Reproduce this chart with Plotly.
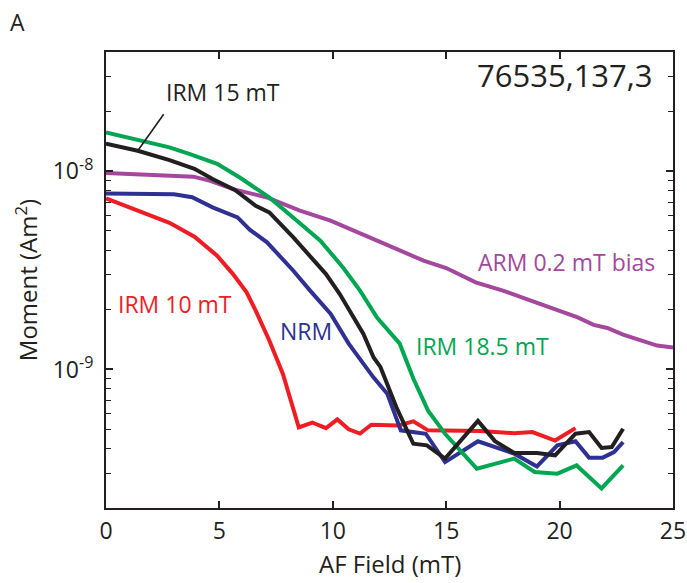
"""AF demagnetisation of sample 76535,137,3: NRM, ARM and IRMs."""

import numpy as np
import plotly.graph_objects as go

# AF field steps (mT) and moments (Am^2)
arm_field = [0.0, 3.85, 4.6, 5.6, 7.1, 8.55, 9.9, 11.5, 12.8, 14.0, 15.0,
             16.3, 17.5, 18.7, 19.9, 20.8, 21.5, 22.1, 22.8, 23.5, 24.3, 25.0]
arm_moment = [9.8e-9, 9.4e-9, 8.95e-9, 8.13e-9, 7.38e-9, 6.33e-9, 5.64e-9,
              4.73e-9, 4.06e-9, 3.54e-9, 3.25e-9, 2.75e-9, 2.5e-9, 2.23e-9,
              1.98e-9, 1.83e-9, 1.68e-9, 1.62e-9, 1.5e-9, 1.41e-9, 1.32e-9,
              1.29e-9]

irm10_field = [0.0, 2.8, 3.9, 4.9, 5.6, 6.2, 6.6, 7.2, 7.8, 8.5, 9.1, 9.7,
               10.2, 10.7, 11.2, 11.7, 12.9, 13.55, 14.2, 16.5, 18.0, 18.8,
               19.8, 20.7]
irm10_moment = [7.3e-9, 5.5e-9, 4.68e-9, 3.75e-9, 3.03e-9, 2.45e-9, 1.98e-9,
                1.4e-9, 9.5e-10, 5.1e-10, 5.4e-10, 5.06e-10, 5.6e-10, 4.99e-10,
                4.75e-10, 5.26e-10, 5.22e-10, 5.47e-10, 4.93e-10, 4.89e-10,
                4.77e-10, 4.83e-10, 4.38e-10, 5.06e-10]

nrm_field = [0.0, 3.0, 3.8, 4.7, 5.8, 6.35, 7.1, 8.25, 9.0, 9.9, 10.7, 11.8,
             12.4, 13.0, 14.1, 14.95, 16.4, 18.0, 19.0, 19.9, 20.7, 21.3,
             21.9, 22.4, 22.8]
nrm_moment = [7.73e-9, 7.65e-9, 7.4e-9, 6.58e-9, 5.85e-9, 5.06e-9, 4.38e-9,
              3.16e-9, 2.5e-9, 1.91e-9, 1.35e-9, 9.1e-10, 7.55e-10, 4.93e-10,
              4.74e-10, 3.41e-10, 4.34e-10, 3.76e-10, 3.24e-10, 4.14e-10,
              4.34e-10, 3.59e-10, 3.59e-10, 3.83e-10, 4.3e-10]

irm185_field = [0.0, 2.8, 3.7, 4.9, 5.9, 7.2, 8.25, 9.45, 10.45, 11.2, 11.95,
                12.95, 13.55, 14.2, 14.95, 16.35, 18.0, 18.9, 19.9, 20.75,
                21.85, 22.8]
irm185_moment = [1.57e-8, 1.32e-8, 1.22e-8, 1.09e-8, 9.3e-9, 7.38e-9, 5.85e-9,
                 4.47e-9, 3.27e-9, 2.5e-9, 1.83e-9, 1.35e-9, 9.0e-10, 6.2e-10,
                 4.74e-10, 3.16e-10, 3.55e-10, 3.04e-10, 2.98e-10, 3.28e-10,
                 2.51e-10, 3.28e-10]

irm15_field = [0.0, 1.4, 2.8, 3.9, 4.7, 5.7, 6.6, 7.2, 8.25, 9.7, 10.3, 11.35,
               11.8, 12.1, 12.8, 13.55, 14.15, 14.95, 16.4, 17.15, 18.0, 19.0,
               19.8, 20.7, 21.3, 21.85, 22.3, 22.8]
irm15_moment = [1.38e-8, 1.27e-8, 1.14e-8, 1.03e-8, 9.15e-9, 8.04e-9, 6.7e-9,
                6.2e-9, 4.65e-9, 3.03e-9, 2.41e-9, 1.51e-9, 1.15e-9, 1.03e-9,
                6.46e-10, 4.22e-10, 4.14e-10, 3.55e-10, 5.5e-10, 4.35e-10,
                3.79e-10, 3.79e-10, 3.69e-10, 4.74e-10, 4.83e-10, 4.02e-10,
                4.06e-10, 5.02e-10]

x_ticks = [0, 5, 10, 15, 20, 25]
y_ticks = [1e-9, 1e-8]
y_ticktext = ["10<sup>-9</sup>", "10<sup>-8</sup>"]
y_minor = [m * 10.0**e for e in (-10, -9, -8) for m in range(2, 10)
           if 2e-10 <= m * 10.0**e <= 4e-8]

INK = "#231F20"
FONT = "Open Sans"

series = [
    (arm_field, arm_moment, "#A3489D", "ARM 0.2 mT bias"),
    (irm10_field, irm10_moment, "#EE1D24", "IRM 10 mT"),
    (nrm_field, nrm_moment, "#2E3192", "NRM"),
    (irm185_field, irm185_moment, "#00A651", "IRM 18.5 mT"),
    (irm15_field, irm15_moment, INK, "IRM 15 mT"),
]

fig = go.Figure()
for field, moment, colour, name in series:
    fig.add_trace(go.Scatter(x=field, y=moment, mode="lines", name=name,
                             line=dict(color=colour, width=4)))

# curve labels (annotation coords on a log axis are log10 values)
labels = [
    ("IRM 15 mT", 2.55, 2.5e-8, INK),
    ("IRM 10 mT", 0.45, 2.15e-9, "#EE1D24"),
    ("NRM", 7.6, 1.57e-9, "#2E3192"),
    ("IRM 18.5 mT", 13.6, 1.31e-9, "#00A651"),
    ("ARM 0.2 mT bias", 16.3, 3.5e-9, "#A3489D"),
]
for text, x, y, colour in labels:
    fig.add_annotation(x=x, y=np.log10(y), text=text, showarrow=False,
                       xanchor="left", yanchor="middle",
                       font=dict(size=23, color=colour, family=FONT))

# leader line from the IRM 15 mT label to its curve
fig.add_annotation(x=1.4, y=np.log10(1.27e-8), ax=27, ay=-38, text="",
                   showarrow=True, arrowhead=0, arrowwidth=1.6, arrowcolor=INK)

fig.add_annotation(x=24.2, y=np.log10(3.05e-8), text="76535,137,3",
                   showarrow=False, xanchor="right", yanchor="middle",
                   font=dict(size=31, color=INK, family=FONT))
fig.add_annotation(x=-0.173, y=1.066, xref="paper", yref="paper", text="A",
                   showarrow=False, xanchor="left", yanchor="middle",
                   font=dict(size=23, color=INK, family=FONT))
fig.add_annotation(x=0.5, y=-0.121, xref="paper", yref="paper",
                   text="AF Field (mT)", showarrow=False,
                   xanchor="center", yanchor="middle",
                   font=dict(size=24, color=INK, family=FONT))

axis_style = dict(showline=True, linewidth=2, linecolor=INK, mirror="ticks",
                  ticks="inside", ticklen=7, tickwidth=1.5, tickcolor=INK,
                  showgrid=False, zeroline=False, automargin=False,
                  tickfont=dict(size=23, color=INK, family=FONT))

fig.update_xaxes(range=[0, 25], tickvals=x_ticks, ticklabelstandoff=1,
                 **axis_style)
fig.update_yaxes(type="log", range=[np.log10(2e-10), np.log10(4e-8)],
                 tickvals=y_ticks, ticktext=y_ticktext, ticklabelstandoff=6,
                 minor=dict(tickvals=y_minor, ticks="inside", ticklen=5,
                            tickwidth=1.2, tickcolor=INK),
                 title=dict(text="Moment (Am<sup>2</sup>)", standoff=8,
                            font=dict(size=24, color=INK, family=FONT)),
                 **axis_style)

fig.update_layout(width=687, height=583, showlegend=False,
                  margin=dict(l=106, r=14, t=52, b=75),
                  paper_bgcolor="white", plot_bgcolor="white",
                  font=dict(family=FONT, color=INK))

fig.write_html("out.html", config={"displayModeBar": False},
               post_script="document.body.style.margin = '0';")
